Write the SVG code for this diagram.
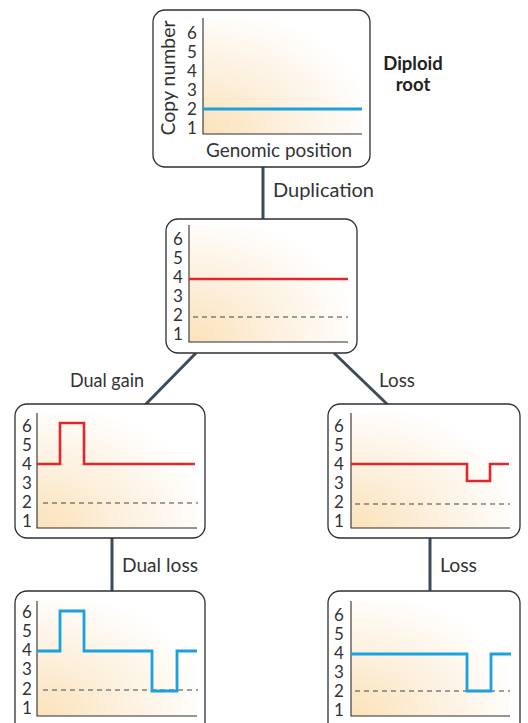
<svg xmlns="http://www.w3.org/2000/svg" width="528" height="723" viewBox="0 0 528 723">
  <defs>
    <radialGradient id="plotBg" cx="0" cy="1" r="1.1" fx="0" fy="1">
      <stop offset="0" stop-color="#fbe2b9"/>
      <stop offset="0.55" stop-color="#fdf2e2"/>
      <stop offset="1" stop-color="#ffffff"/>
    </radialGradient>
  </defs>
  <style>
    .box { fill: #ffffff; stroke: #2f2f2f; stroke-width: 1.3; }
    .bg { fill: url(#plotBg); }
    .axis { fill: none; stroke: #2f2f2f; stroke-width: 1.1; }
    .base { fill: none; stroke: #444444; stroke-width: 1.1; stroke-dasharray: 5 4; }
    .red { fill: none; stroke: #e1262c; stroke-width: 2.6; }
    .blue { fill: none; stroke: #1ba1dd; stroke-width: 2.8; }
    .tick { font-family: Lato, "Open Sans", sans-serif; font-size: 17px; fill: #333333; text-anchor: middle; }
    .lab { font-family: Lato, "Open Sans", sans-serif; font-size: 18.5px; fill: #333333; }
    .bold { font-family: Lato, "Open Sans", sans-serif; font-size: 18.5px; font-weight: bold; fill: #222222; text-anchor: middle; }
    .edge { fill: none; stroke: #3c4d59; stroke-width: 3; }
  </style>

  <!-- connectors between profiles -->
  <g id="connectors">
    <line class="edge" x1="263" y1="167" x2="263" y2="220"/>
    <line class="edge" x1="196" y1="353" x2="145" y2="405"/>
    <line class="edge" x1="334" y1="353" x2="388" y2="405"/>
    <line class="edge" x1="112" y1="538" x2="112" y2="592"/>
    <line class="edge" x1="430" y1="538" x2="430" y2="592"/>
    <text class="lab" x="273" y="197" textLength="101" lengthAdjust="spacingAndGlyphs">Duplication</text>
    <text class="lab" x="70" y="387" textLength="74" lengthAdjust="spacingAndGlyphs">Dual gain</text>
    <text class="lab" x="379" y="387" textLength="36" lengthAdjust="spacingAndGlyphs">Loss</text>
    <text class="lab" x="122" y="572" textLength="76" lengthAdjust="spacingAndGlyphs">Dual loss</text>
    <text class="lab" x="440" y="572" textLength="37" lengthAdjust="spacingAndGlyphs">Loss</text>
  </g>

  <!-- diploid root profile -->
  <g id="root">
    <rect class="box" x="153" y="10" width="217" height="157" rx="12"/>
    <rect class="bg" x="203" y="18" width="159" height="116"/>
    <path class="axis" d="M203 18 V134 H362"/>
    <line class="blue" x1="203" y1="109" x2="362" y2="109"/>
    <text class="tick" x="192" y="39">6</text>
    <text class="tick" x="192" y="58">5</text>
    <text class="tick" x="192" y="77">4</text>
    <text class="tick" x="192" y="96">3</text>
    <text class="tick" x="192" y="115">2</text>
    <text class="tick" x="192" y="134">1</text>
    <text class="lab" transform="translate(175 78) rotate(-90)" text-anchor="middle" textLength="115" lengthAdjust="spacingAndGlyphs">Copy number</text>
    <text class="lab" x="206" y="157" textLength="146" lengthAdjust="spacingAndGlyphs">Genomic position</text>
    <text class="bold" x="413" y="70">Diploid</text>
    <text class="bold" x="413" y="91">root</text>
  </g>

  <!-- after whole-genome duplication -->
  <g id="duplication">
    <rect class="box" x="166" y="219" width="191" height="134" rx="12"/>
    <rect class="bg" x="189" y="225" width="159" height="117"/>
    <path class="axis" d="M189 225 V342 H348"/>
    <line class="base" x1="193" y1="317" x2="348" y2="317"/>
    <line class="red" x1="189" y1="279" x2="348" y2="279"/>
    <text class="tick" x="178" y="245">6</text>
    <text class="tick" x="178" y="264">5</text>
    <text class="tick" x="178" y="283">4</text>
    <text class="tick" x="178" y="302">3</text>
    <text class="tick" x="178" y="321">2</text>
    <text class="tick" x="178" y="340">1</text>
  </g>

  <!-- dual gain branch -->
  <g id="dual-gain">
    <rect class="box" x="15" y="404" width="190" height="134" rx="12"/>
    <rect class="bg" x="37" y="413" width="160" height="115"/>
    <path class="axis" d="M37 413 V528 H197"/>
    <line class="base" x1="43" y1="503" x2="198" y2="503"/>
    <path class="red" d="M37 464 H60 V423 H84 V464 H195"/>
    <text class="tick" x="27" y="432">6</text>
    <text class="tick" x="27" y="451">5</text>
    <text class="tick" x="27" y="470">4</text>
    <text class="tick" x="27" y="489">3</text>
    <text class="tick" x="27" y="508">2</text>
    <text class="tick" x="27" y="527">1</text>
  </g>

  <!-- loss branch -->
  <g id="loss">
    <rect class="box" x="328" y="404" width="192" height="134" rx="12"/>
    <rect class="bg" x="351" y="413" width="159" height="115"/>
    <path class="axis" d="M351 413 V528 H510"/>
    <line class="base" x1="355" y1="504" x2="510" y2="504"/>
    <path class="red" d="M351 464 H467 V481 H490 V464 H509"/>
    <text class="tick" x="339" y="432">6</text>
    <text class="tick" x="339" y="451">5</text>
    <text class="tick" x="339" y="470">4</text>
    <text class="tick" x="339" y="489">3</text>
    <text class="tick" x="339" y="508">2</text>
    <text class="tick" x="339" y="527">1</text>
  </g>

  <!-- dual loss leaf -->
  <g id="dual-loss">
    <rect class="box" x="15" y="591" width="190" height="145" rx="12"/>
    <rect class="bg" x="37" y="601" width="160" height="115"/>
    <path class="axis" d="M37 601 V716 H197"/>
    <line class="base" x1="43" y1="690" x2="198" y2="690"/>
    <path class="blue" d="M37 651 H60 V611 H84 V651 H152 V691 H177 V651 H197"/>
    <text class="tick" x="27" y="618">6</text>
    <text class="tick" x="27" y="637">5</text>
    <text class="tick" x="27" y="656">4</text>
    <text class="tick" x="27" y="675">3</text>
    <text class="tick" x="27" y="695">2</text>
    <text class="tick" x="27" y="714">1</text>
  </g>

  <!-- second loss leaf -->
  <g id="loss-leaf">
    <rect class="box" x="328" y="591" width="192" height="145" rx="12"/>
    <rect class="bg" x="351" y="601" width="159" height="115"/>
    <path class="axis" d="M351 601 V716 H510"/>
    <line class="base" x1="355" y1="691" x2="510" y2="691"/>
    <path class="blue" d="M351 654 H467 V691 H491 V654 H511"/>
    <text class="tick" x="339" y="621">6</text>
    <text class="tick" x="339" y="640">5</text>
    <text class="tick" x="339" y="659">4</text>
    <text class="tick" x="339" y="678">3</text>
    <text class="tick" x="339" y="697">2</text>
    <text class="tick" x="339" y="716">1</text>
  </g>
</svg>
